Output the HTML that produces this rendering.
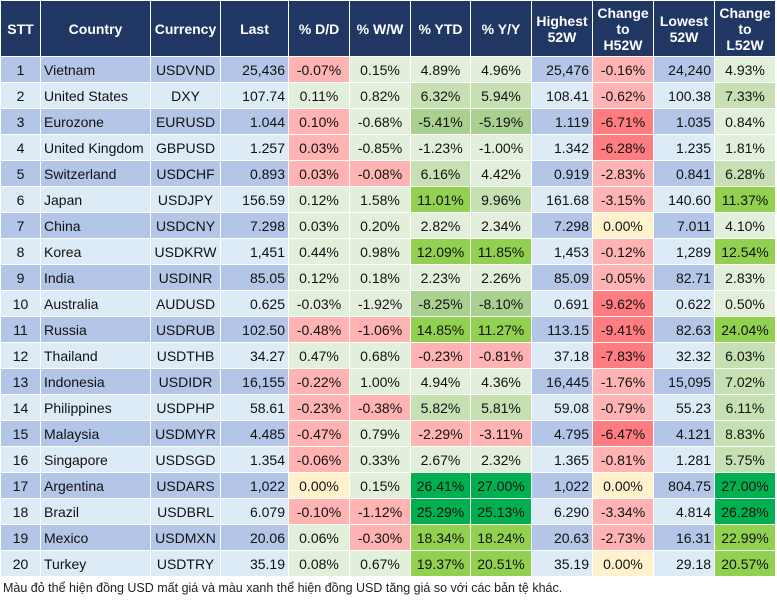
<!DOCTYPE html>
<html><head><meta charset="utf-8">
<style>
html,body{margin:0;padding:0;background:#fff;width:777px;height:602px;overflow:hidden}
body{font-family:"Liberation Sans",Arial,sans-serif;color:#111}
table{position:absolute;left:0;top:0;border-collapse:collapse;table-layout:fixed;width:776px}
td,th{border:1px solid #fff;padding:0 3px;font-size:14px;white-space:nowrap;overflow:hidden}
th{background:#203764;color:#fff;font-weight:bold;height:55px;text-align:center;line-height:16px;padding:0 1px}
td{height:25px}
.c{text-align:center}.l{text-align:left}.rt{text-align:right}
.o{background:#b4c6e7}.e{background:#ddebf7}
.a{background:#e2efda}.b{background:#c6e0b4}.g3{background:#a9d08e}.d{background:#92d050}.g5{background:#00b050}
.r{background:#ffb3b3}.R{background:#ff7c80}.y{background:#fff2cc}
#note{position:absolute;left:3px;top:581px;font-size:12.5px;color:#222}
</style></head><body>
<table>
<colgroup><col style="width:40px"><col style="width:110px"><col style="width:70px"><col style="width:68px"><col style="width:61px"><col style="width:61px"><col style="width:60px"><col style="width:61px"><col style="width:61px"><col style="width:61px"><col style="width:61px"><col style="width:61px"></colgroup>
<thead><tr>
<th>STT</th>
<th>Country</th>
<th>Currency</th>
<th>Last</th>
<th>% D/D</th>
<th>% W/W</th>
<th>% YTD</th>
<th>% Y/Y</th>
<th>Highest<br>52W</th>
<th>Change<br>to<br>H52W</th>
<th>Lowest<br>52W</th>
<th>Change<br>to<br>L52W</th>
</tr></thead>
<tbody id="tb"></tbody>
</table>
<div id="note">Màu đỏ thể hiện đồng USD mất giá và màu xanh thể hiện đồng USD tăng giá so với các bản tệ khác.</div>
<script>
var countries=["Vietnam","United States","Eurozone","United Kingdom","Switzerland","Japan","China","Korea","India","Australia","Russia","Thailand","Indonesia","Philippines","Malaysia","Singapore","Argentina","Brazil","Mexico","Turkey"];
var currencies=["USDVND","DXY","EURUSD","GBPUSD","USDCHF","USDJPY","USDCNY","USDKRW","USDINR","AUDUSD","USDRUB","USDTHB","USDIDR","USDPHP","USDMYR","USDSGD","USDARS","USDBRL","USDMXN","USDTRY"];
var last=["25,436","107.74","1.044","1.257","0.893","156.59","7.298","1,451","85.05","0.625","102.50","34.27","16,155","58.61","4.485","1.354","1,022","6.079","20.06","35.19"];
var dd=["-0.07%","0.11%","0.10%","0.03%","0.03%","0.12%","0.03%","0.44%","0.12%","-0.03%","-0.48%","0.47%","-0.22%","-0.23%","-0.47%","-0.06%","0.00%","-0.10%","0.06%","0.08%"];
var ww=["0.15%","0.82%","-0.68%","-0.85%","-0.08%","1.58%","0.20%","0.98%","0.18%","-1.92%","-1.06%","0.68%","1.00%","-0.38%","0.79%","0.33%","0.15%","-1.12%","-0.30%","0.67%"];
var ytd=["4.89%","6.32%","-5.41%","-1.23%","6.16%","11.01%","2.82%","12.09%","2.23%","-8.25%","14.85%","-0.23%","4.94%","5.82%","-2.29%","2.67%","26.41%","25.29%","18.34%","19.37%"];
var yy=["4.96%","5.94%","-5.19%","-1.00%","4.42%","9.96%","2.34%","11.85%","2.26%","-8.10%","11.27%","-0.81%","4.36%","5.81%","-3.11%","2.32%","27.00%","25.13%","18.24%","20.51%"];
var high=["25,476","108.41","1.119","1.342","0.919","161.68","7.298","1,453","85.09","0.691","113.15","37.18","16,445","59.08","4.795","1.365","1,022","6.290","20.63","35.19"];
var chH=["-0.16%","-0.62%","-6.71%","-6.28%","-2.83%","-3.15%","0.00%","-0.12%","-0.05%","-9.62%","-9.41%","-7.83%","-1.76%","-0.79%","-6.47%","-0.81%","0.00%","-3.34%","-2.73%","0.00%"];
var low=["24,240","100.38","1.035","1.235","0.841","140.60","7.011","1,289","82.71","0.622","82.63","32.32","15,095","55.23","4.121","1.281","804.75","4.814","16.31","29.18"];
var chL=["4.93%","7.33%","0.84%","1.81%","6.28%","11.37%","4.10%","12.54%","2.83%","0.50%","24.04%","6.03%","7.02%","6.11%","8.83%","5.75%","27.00%","26.28%","22.99%","20.57%"];
// colour class codes per row: D/D, W/W, YTD, Y/Y, CH52, CL52
var shades=["r a a a r a","a a b b r b","r a g3 g3 R a","r a a a R a","r r b a r b","a a d b r d","a a a a y a","a a d d r d","a a a a r a","a a g3 g3 R a","r r d d R d","a a r r R b","r a a a r b","r r b b r b","r a r r R b","r a a a r b","y a g5 g5 y g5","r r g5 g5 r g5","a r d d r d","a a d d y d"];
var tb=document.getElementById('tb');
function cell(tr,text,cls,name){
  var td=document.createElement('td');
  td.className=cls;
  td.textContent=text;
  
  
  tr.appendChild(td);
}
for(var i=0;i<countries.length;i++){
  var tr=document.createElement('tr');
  
  
  var rb=(i%2===0)?'o':'e';
  var s=shades[i].split(' ');
  cell(tr,String(i+1),rb+' c','stt-cell');
  cell(tr,countries[i],rb+' l','country-cell');
  cell(tr,currencies[i],rb+' c','currency-cell');
  cell(tr,last[i],rb+' rt','last-cell');
  cell(tr,dd[i],s[0]+' c','dd-cell');
  cell(tr,ww[i],s[1]+' c','ww-cell');
  cell(tr,ytd[i],s[2]+' c','ytd-cell');
  cell(tr,yy[i],s[3]+' c','yy-cell');
  cell(tr,high[i],rb+' rt','high52w-cell');
  cell(tr,chH[i],s[4]+' c','change-h52w-cell');
  cell(tr,low[i],rb+' rt','low52w-cell');
  cell(tr,chL[i],s[5]+' c','change-l52w-cell');
  tb.appendChild(tr);
}
</script>
</body></html>
